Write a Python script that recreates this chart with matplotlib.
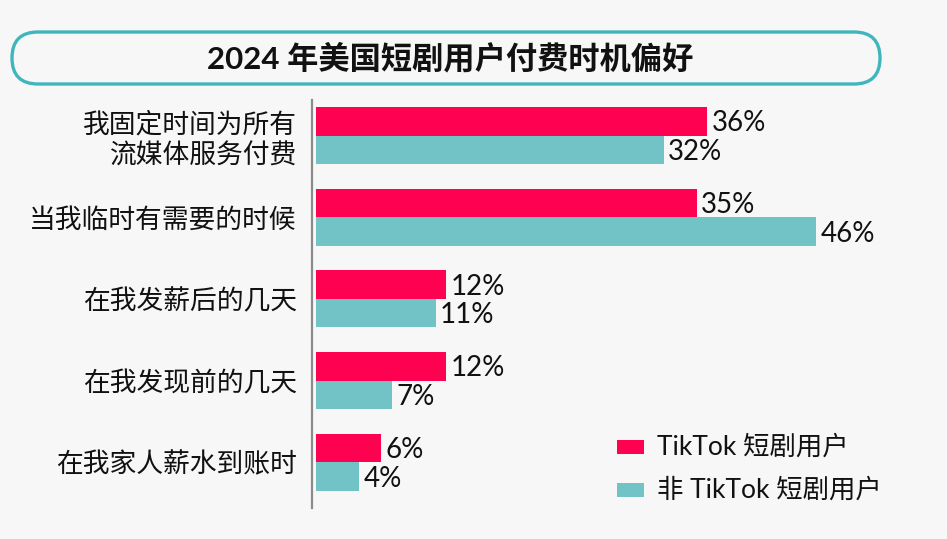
import matplotlib
matplotlib.use("Agg")
import matplotlib.pyplot as plt
from matplotlib.patches import FancyBboxPatch, Rectangle
from matplotlib.transforms import ScaledTranslation
import numpy as np

categories = ['我固定时间为所有\n流媒体服务付费', '当我临时有需要的时候', '在我发薪后的几天',
              '在我发现前的几天', '在我家人薪水到账时']
tiktok = [36, 35, 12, 12, 6]
non_tiktok = [32, 46, 11, 7, 4]
series_names = ['TikTok 短剧用户', '非 TikTok 短剧用户']
title = '2024 年美国短剧用户付费时机偏好'

PINK = '#fe0151'
TEAL = '#72c3c5'
BG = '#f7f7f7'
CJK = ['Noto Sans CJK SC', 'DejaVu Sans']
LAT = ['Lato', 'Noto Sans CJK SC', 'DejaVu Sans']

plt.rcParams['font.family'] = CJK

fig = plt.figure(figsize=(9.47, 5.39), dpi=100, facecolor=BG)
ax = fig.add_axes([312 / 947, 1 - 508 / 539, 0.6, 408 / 539])
ax.set_facecolor(BG)

y = np.arange(len(categories))
h = 0.35
b1 = ax.barh(y - h / 2, tiktok, height=h, color=PINK)
b2 = ax.barh(y + h / 2, non_tiktok, height=h, color=TEAL)

for bars, vals in ((b1, tiktok), (b2, non_tiktok)):
    for bar, v in zip(bars, vals):
        ax.annotate(f'{v}%', (bar.get_width(), bar.get_y() + bar.get_height() / 2),
                    xytext=(3, -1.5), textcoords='offset points', va='center', ha='left',
                    fontsize=20, family=LAT, color='#111111')

ax.set_xlim(-4 / 10.87, -4 / 10.87 + 568 / 10.87)
ax.set_ylim(4.56, -0.435)
ax.set_yticks(y)
ax.set_yticklabels(categories, fontsize=19.3, linespacing=1.2, color='#111111')
shift = ScaledTranslation(0, -0.04, fig.dpi_scale_trans)
for lab in ax.get_yticklabels():
    lab.set_transform(lab.get_transform() + shift)
ax.tick_params(axis='y', length=0, pad=11)
ax.set_xticks([])
for s in ('top', 'right', 'bottom'):
    ax.spines[s].set_visible(False)
ax.spines['left'].set_color('#8a8a8a')
ax.spines['left'].set_linewidth(1.6)

# title box
box = FancyBboxPatch((0.12, 4.55), 8.68, 0.52, boxstyle='round,pad=0,rounding_size=0.26',
                     transform=fig.dpi_scale_trans, facecolor=BG, edgecolor='#3fb6be',
                     linewidth=2.4)
fig.patches.append(box)
fig.text(4.50 / 9.47, 1 - 58 / 539, title, ha='center', va='center', fontsize=22.5,
         fontweight='bold', family=LAT, color='#111111')

# legend
for i, (name, col) in enumerate(zip(series_names, (PINK, TEAL))):
    yc = 447 + 43 * i
    fig.patches.append(Rectangle((617 / 947, 1 - (yc + 7) / 539), 27 / 947, 14 / 539,
                                 transform=fig.transFigure, facecolor=col, edgecolor='none'))
    fig.text(657 / 947, 1 - yc / 539, name, ha='left', va='center', fontsize=19,
             family=LAT, color='#111111')

fig.savefig('out.png', dpi=100, facecolor=BG)
